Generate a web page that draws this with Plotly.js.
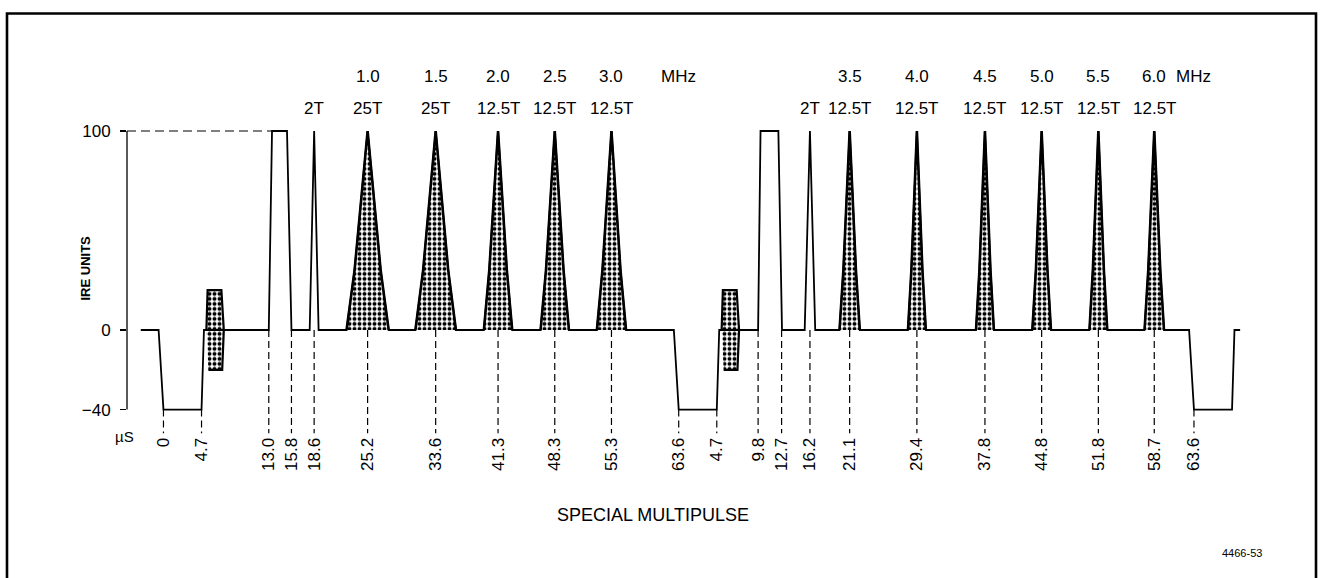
<!DOCTYPE html>
<html>
<head>
<meta charset="utf-8">
<script src="https://cdn.plot.ly/plotly-3.0.1.min.js"></script>
<style>
html,body{margin:0;padding:0;background:#fff;}
#chart{width:1320px;height:578px;}
</style>
</head>
<body>
<div id="chart"></div>
<script>
// ---------------- DATA (times in µs, levels in IRE) ----------------
const LINE_PERIOD = 63.6;

// time tick labels under each line
const line1TickLabels = ["0", "4.7", "13.0", "15.8", "18.6", "25.2", "33.6", "41.3", "48.3", "55.3", "63.6"];
const line2TickLabels = ["4.7", "9.8", "12.7", "16.2", "21.1", "29.4", "37.8", "44.8", "51.8", "58.7", "63.6"];

// IRE axis ticks
const ireTickValues = [100, 0, -40];
const ireTickLabels = ["100", "0", "\u221240"];

// horizontal sync (same on every line)
const syncT = [-0.6, 0, 4.7, 5.0];
const syncV = [0, -40, -40, 0];

// colour burst envelope (same on every line)
const burstT = [5.3, 5.45, 7.15, 7.45, 7.25, 5.55];
const burstV = [0, 20, 20, 0, -20, -20];

// white bar
const line1BarT = [13.0, 13.4, 15.25, 15.8];
const line2BarT = [9.8, 10.1, 12.3, 12.75];
const barV = [0, 100, 100, 0];

// 2T pulse
const line1PulseT = [18.05, 18.6, 19.15];
const line2PulseT = [15.55, 16.2, 16.85];
const pulseV = [0, 100, 0];

// multiburst packets
const line1PacketCenters = [25.2, 33.6, 41.3, 48.3, 55.3];
const line1PacketHalfWidths = [2.6, 2.5, 1.75, 1.75, 1.8];
const line1PacketFreqs = ["1.0", "1.5", "2.0", "2.5", "3.0"];
const line1PacketTypes = ["25T", "25T", "12.5T", "12.5T", "12.5T"];

const line2PacketCenters = [21.1, 29.4, 37.8, 44.8, 51.8, 58.7];
const line2PacketHalfWidths = [1.25, 1.1, 1.1, 1.15, 1.1, 1.2];
const line2PacketFreqs = ["3.5", "4.0", "4.5", "5.0", "5.5", "6.0"];
const line2PacketTypes = ["12.5T", "12.5T", "12.5T", "12.5T", "12.5T", "12.5T"];

// packet envelope outline (relative to half-width) and its levels
const packetProfile = [-1, -0.62, 0, 0.62, 1];
const packetProfileV = [0, 30, 100, 30, 0];

// front porch start of line 1 and end of the drawn trace after line 2
const traceStartT = -2.8;
const traceEndT = 5.7;

// ---------------- LAYOUT CONSTANTS ----------------
const FONT = 'Liberation Sans, Arial, Helvetica, sans-serif';
const X_RANGE = [-4.5, 133.5];
const Y_RANGE = [-52, 140];
const ROW_FREQ_Y = 127.5;
const ROW_TYPE_Y = 111.5;
const W = 1320, H = 578;

// ---------------- BUILD ----------------
const lines = [
  {bar: line1BarT, pulse: line1PulseT, pc: line1PacketCenters, pw: line1PacketHalfWidths,
   freqs: line1PacketFreqs, types: line1PacketTypes},
  {bar: line2BarT, pulse: line2PulseT, pc: line2PacketCenters, pw: line2PacketHalfWidths,
   freqs: line2PacketFreqs, types: line2PacketTypes}
];

const wx = [], wy = [];
function add(t, v) { wx.push(t); wy.push(v); }
add(traceStartT, 0);
const px = [], py = [];
const bx = [], by = [];
lines.forEach((L, k) => {
  const o = k * LINE_PERIOD;
  syncT.forEach((t, i) => add(o + t, syncV[i]));
  burstT.forEach((t, i) => { bx.push(o + t); by.push(burstV[i]); });
  bx.push(null); by.push(null);
  L.bar.forEach((t, i) => add(o + t, barV[i]));
  L.pulse.forEach((t, i) => add(o + t, pulseV[i]));
  L.pc.forEach((c, j) => {
    packetProfile.forEach((p, i) => {
      add(o + c + p * L.pw[j], packetProfileV[i]);
      px.push(o + c + p * L.pw[j]); py.push(packetProfileV[i]);
    });
    px.push(null); py.push(null);
  });
});
const oEnd = lines.length * LINE_PERIOD;
syncT.forEach((t, i) => add(oEnd + t, syncV[i]));
add(oEnd + traceEndT, 0);

// ticks
const tickVals = [], tickText = [];
line1TickLabels.forEach(s => { tickVals.push(parseFloat(s)); tickText.push(s); });
line2TickLabels.forEach(s => { tickVals.push(parseFloat(s) + LINE_PERIOD); tickText.push(s); });

// dashed guide lines from the waveform down to the time labels
const gx = [], gy = [];
tickVals.forEach(T => {
  const lt = T - LINE_PERIOD * Math.floor(T / LINE_PERIOD + 1e-9);
  const inSync = lt >= syncT[1] - 1e-6 && lt <= syncT[2] + 1e-6;
  gx.push(T, T, null);
  gy.push(inSync ? syncV[1] : 0, Y_RANGE[0], null);
});

const pattern = {shape: '.', fgcolor: '#000', bgcolor: '#fff', size: 5, solidity: 0.5};

const traces = [
  {x: gx, y: gy, mode: 'lines', line: {color: '#000', width: 1.2, dash: '7px,4px'}, hoverinfo: 'skip'},
  {x: [X_RANGE[0], line1BarT[1]], y: [100, 100], mode: 'lines',
   line: {color: '#000', width: 1.2, dash: '9px,5px'}, hoverinfo: 'skip'},
  {x: bx, y: by, mode: 'lines', fill: 'toself', fillcolor: '#888', fillpattern: pattern,
   line: {color: '#000', width: 2.2}, hoverinfo: 'skip'},
  {x: wx, y: wy, mode: 'lines', line: {color: '#000', width: 1.8}, hoverinfo: 'skip'},
  {x: px, y: py, mode: 'lines', fill: 'toself', fillcolor: '#888', fillpattern: pattern,
   line: {color: '#000', width: 2.6}, hoverinfo: 'skip'}
];

// annotations
const ann = [];
function txt(x, y, text, size, extra) {
  return Object.assign({x: x, y: y, xref: 'x', yref: 'y', text: text, showarrow: false,
    font: {family: FONT, size: size, color: '#000'}}, extra || {});
}
lines.forEach((L, k) => {
  const o = k * LINE_PERIOD;
  ann.push(txt(o + L.pulse[1], ROW_TYPE_Y, '2T', 17));
  L.pc.forEach((c, j) => {
    ann.push(txt(o + c, ROW_FREQ_Y, L.freqs[j], 17));
    ann.push(txt(o + c, ROW_TYPE_Y, L.types[j], 17));
  });
  ann.push(txt(o + LINE_PERIOD, ROW_FREQ_Y, 'MHz', 17));
});
function paperTxt(pxX, pxY, text, size, extra) {
  return Object.assign({x: pxX / W, y: 1 - pxY / H, xref: 'paper', yref: 'paper', text: text,
    showarrow: false, font: {family: FONT, size: size, color: '#000'}}, extra || {});
}
ann.push(paperTxt(113, 447, '\u00b5S', 15));
ann.push(paperTxt(75, 268, '<b>IRE UNITS</b>', 13, {textangle: -90}));
ann.push(paperTxt(653, 527, 'SPECIAL MULTIPULSE', 18));
ann.push(paperTxt(1264, 561, '4466-53', 11));

const layout = {
  width: W, height: H,
  margin: {l: 0, r: 0, t: 0, b: 0},
  paper_bgcolor: '#fff', plot_bgcolor: 'rgba(0,0,0,0)',
  showlegend: false,
  font: {family: FONT, color: '#000'},
  xaxis: {
    domain: [127 / W, 1245 / W], range: X_RANGE, showgrid: false, zeroline: false,
    showline: false, ticks: '', tickmode: 'array', tickvals: tickVals, ticktext: tickText,
    tickangle: -90, tickfont: {family: FONT, size: 17, color: '#000'}, fixedrange: true
  },
  yaxis: {
    domain: [(H - 433.5) / H, (H - 51.4) / H], range: Y_RANGE, showgrid: false, zeroline: false,
    showline: false, ticks: 'outside', ticklen: 6, tickwidth: 1.3, tickcolor: '#000',
    tickmode: 'array', tickvals: ireTickValues, ticktext: ireTickLabels,
    tickfont: {family: FONT, size: 17, color: '#000'}, ticklabelstandoff: 6, fixedrange: true
  },
  shapes: [
    {type: 'rect', xref: 'paper', yref: 'paper', x0: 7 / W, x1: 1316 / W, y0: -0.1, y1: 1 - 13.5 / H,
     line: {color: '#000', width: 2.6}, fillcolor: 'rgba(0,0,0,0)'},
    {type: 'line', xref: 'x domain', x0: 0, x1: 0, yref: 'y', y0: ireTickValues[2], y1: ireTickValues[0],
     line: {color: '#000', width: 1.3}}
  ],
  annotations: ann
};

Plotly.newPlot('chart', traces, layout, {staticPlot: true, displayModeBar: false});
</script>
</body>
</html>
